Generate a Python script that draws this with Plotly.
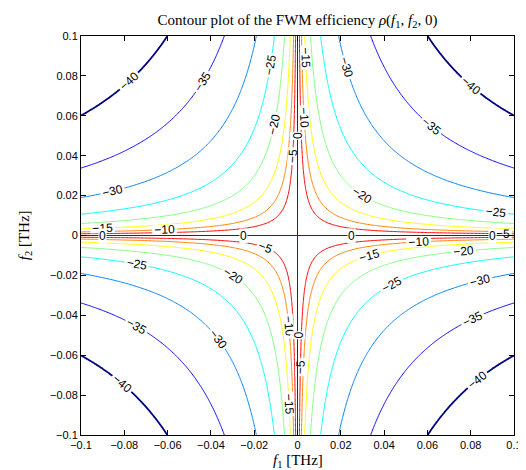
import numpy as np
import plotly.graph_objects as go

# ---- values ----
levels_db = [-40, -35, -30, -25, -20, -15, -10, -5, 0]          # contour levels [dB]
level_colors = ["#000080", "#0000ff", "#0080ff", "#00ffff",
                "#80ff80", "#ffff00", "#ff8000", "#ff0000", "#800000"]  # jet
tick_vals = [-0.1, -0.08, -0.06, -0.04, -0.02, 0, 0.02, 0.04, 0.06, 0.08, 0.1]
tick_text = ["−0.1", "−0.08", "−0.06", "−0.04", "−0.02", "0",
             "0.02", "0.04", "0.06", "0.08", "0.1"]
# fibre parameters (estimated from where the contours cross the frame)
alpha_db_per_km = 0.2      # attenuation [dB/km]
beta2_ps2_per_km = 19.4    # |beta2| [ps^2/km]
# positions of the "0" labels along the axes
zero_label_x = [-0.09, -0.025, 0.025, 0.09]
zero_label_y = [0.05, -0.05]

# ---- evaluation grid: f1, f2 in THz ----
fine = np.logspace(-5, -2.5, 60)
f = np.unique(np.concatenate([np.linspace(-0.1, 0.1, 321), fine, -fine]))
F1, F2 = np.meshgrid(f, f)
alpha = alpha_db_per_km / (10 * np.log10(np.e))
dbeta = 4 * np.pi ** 2 * beta2_ps2_per_km * F1 * F2
rho_db = np.round(10 * np.log10(alpha ** 2 / (alpha ** 2 + dbeta ** 2)), 3)

lab_font = dict(family="Liberation Sans, Arial, sans-serif", size=12, color="black")

fig = go.Figure()
# -40 dB level drawn heavier (as in the reference)
fig.add_trace(go.Contour(
    x=f, y=f, z=rho_db,
    autocontour=False,
    contours=dict(start=levels_db[0], end=levels_db[0], size=5,
                  coloring="none", showlabels=True, labelfont=lab_font,
                  labelformat=".0f"),
    line=dict(color=level_colors[0], width=1.8),
    showscale=False, hoverinfo="skip",
))
# remaining levels -35 ... -5, coloured with jet
inner_levels = levels_db[1:-1]
inner_colors = level_colors[1:-1]
n = len(inner_levels)
cscale = [[i / (n - 1), c] for i, c in enumerate(inner_colors)]
fig.add_trace(go.Contour(
    x=f, y=f, z=rho_db,
    autocontour=False,
    contours=dict(start=inner_levels[0], end=inner_levels[-1], size=5,
                  coloring="lines", showlabels=True, labelfont=lab_font,
                  labelformat=".0f"),
    colorscale=cscale, line=dict(width=1),
    showscale=False, hoverinfo="skip",
))

serif_title = dict(family="Liberation Serif, DejaVu Serif, serif", size=15, color="black")

annotations = []
for xv in zero_label_x:
    annotations.append(dict(x=xv, y=0, xref="x", yref="y", text="0",
                            showarrow=False, font=lab_font, bgcolor="white",
                            borderpad=0))
for yv in zero_label_y:
    annotations.append(dict(x=0, y=yv, xref="x", yref="y", text="0",
                            showarrow=False, font=lab_font, bgcolor="white",
                            borderpad=0, textangle=90))
# axis titles
annotations.append(dict(x=0.5, y=-0.066, xref="paper", yref="paper",
                        xanchor="center", yanchor="middle", showarrow=False,
                        text="<i>f</i><sub>1</sub> [THz]", font=serif_title))
annotations.append(dict(x=-0.13, y=0.5, xref="paper", yref="paper",
                        xanchor="center", yanchor="middle", showarrow=False,
                        textangle=-90,
                        text="<i>f</i><sub>2</sub> [THz]", font=serif_title))

axis_common = dict(
    range=[-0.1, 0.1], tickvals=tick_vals, ticktext=tick_text,
    ticks="inside", ticklen=5, tickcolor="black", tickwidth=1,
    showline=True, linecolor="black", linewidth=1, mirror="ticks",
    showgrid=False, zeroline=True, zerolinecolor="#8b0000", zerolinewidth=1.3,
    tickfont=dict(family="Liberation Sans, Arial, sans-serif", size=11, color="black"),
)

fig.update_layout(
    width=526, height=470,
    margin=dict(l=73, r=17, t=28, b=43),
    paper_bgcolor="white", plot_bgcolor="white",
    title=dict(text="Contour plot of the FWM efficiency <i>ρ</i>(<i>f</i><sub>1</sub>, <i>f</i><sub>2</sub>, 0)",
               x=0.5, xref="paper", y=0.987, yref="container",
               font=dict(family="Liberation Serif, DejaVu Serif, serif", size=15, color="black")),
    xaxis=axis_common,
    yaxis=axis_common,
    annotations=annotations,
    showlegend=False,
)

fig.write_html("out.html")
